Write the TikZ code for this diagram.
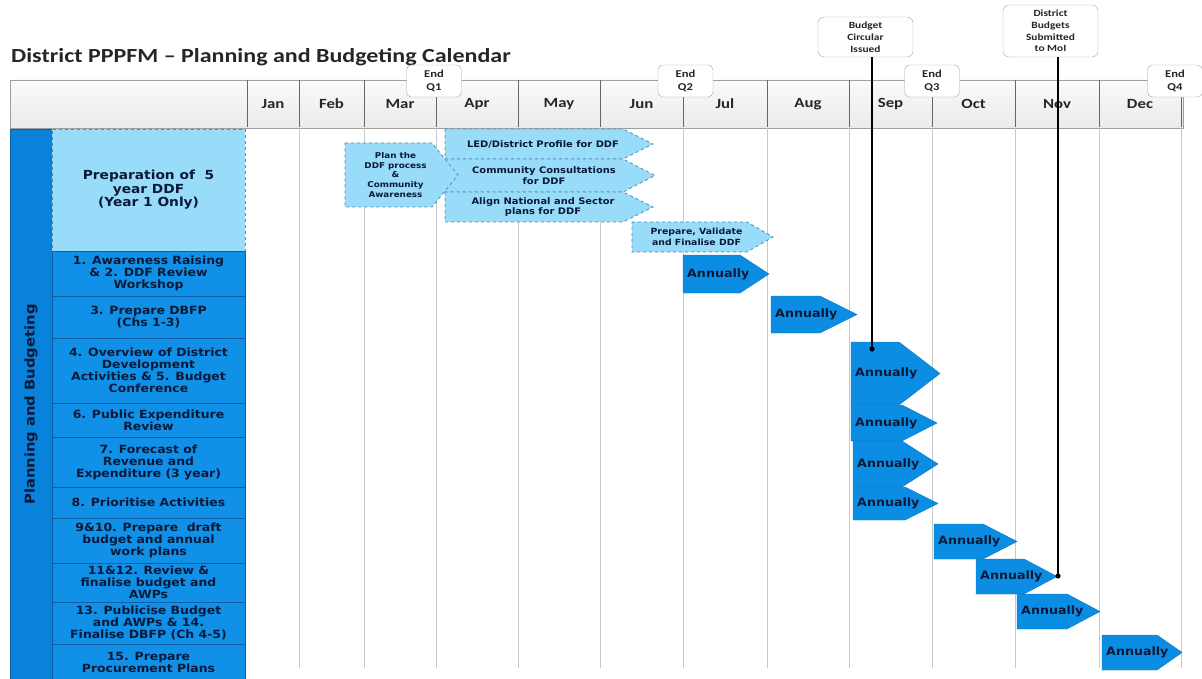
\documentclass[tikz,border=0pt]{standalone}
\usepackage{fontspec}
\setmainfont{DejaVu Sans}
\newfontfamily\lblfont[FakeStretch=1.1]{DejaVu Sans}
\newfontfamily\calfont[FakeStretch=1.2]{Carlito}
\usetikzlibrary{positioning}

\definecolor{rowblue}{RGB}{16,144,230}
\definecolor{sideblue}{RGB}{8,130,218}
\definecolor{rowedge}{RGB}{12,95,165}
\definecolor{ddfblue}{RGB}{152,220,249}
\definecolor{ddfedge}{RGB}{75,140,185}
\definecolor{annualblue}{RGB}{12,141,228}
\definecolor{navytext}{RGB}{10,25,55}
\definecolor{gridgrey}{RGB}{200,200,200}

% light blue DDF arrow: name, left x, body end x, tip x, top y, bottom y, text style, text
\newcommand{\ddfbar}[8]{%
  \draw[ddfbar] (#2,#5) -- (#3,#5) -- (#4,{(#5+#6)/2}) -- (#3,#6) -- (#2,#6) -- cycle;
  \node[ddftext, #7] (#1) at ({(#2+#4)/2-6},{(#5+#6)/2}) {#8};}

% dark blue annual arrow: name, left x, body end x, tip x, top y, bottom y
\newcommand{\annualbar}[6]{%
  \draw[annual] (#2,#5) -- (#3,#5) -- (#4,{(#5+#6)/2}) -- (#3,#6) -- (#2,#6) -- cycle;
  \node[annualtext] (#1) at ({#2+3},{(#5+#6)/2}) {Annually};}

\begin{document}
\begin{tikzpicture}[x=1pt, y=-1pt,
    title/.style={anchor=west, inner sep=0pt, text=black!85, font=\calfont\bfseries\fontsize{20}{22}\selectfont},
    header/.style={rectangle, draw=gray!75, line width=0.9pt, top color=gray!4, bottom color=gray!16, inner sep=0pt},
    headline/.style={draw=gray!80!black, line width=0.6pt},
    month/.style={inner sep=0pt, text=black!85, font=\calfont\bfseries\fontsize{14}{16}\selectfont},
    endq/.style={rectangle, rounded corners=5pt, draw=gray!70, fill=white, minimum width=55pt, minimum height=32pt, inner sep=0pt, align=center, text=black!85, font=\calfont\bfseries\fontsize{10.5}{13}\selectfont},
    callout/.style={rectangle, rounded corners=6pt, draw=gray!70, fill=white, minimum width=95pt, inner sep=0pt, align=center, text=black!85, font=\calfont\bfseries\fontsize{9.5}{11.8}\selectfont},
    gridline/.style={draw=gridgrey, line width=0.8pt},
    sidebar/.style={rectangle, fill=sideblue, draw=rowedge, line width=0.5pt, inner sep=0pt, text=navytext, font=\lblfont\bfseries\fontsize{13.4}{15}\selectfont},
    rowlbl/.style={rectangle, fill=rowblue, draw=rowedge, line width=0.5pt, inner sep=0pt, minimum width=193pt, align=center, text=navytext, font=\lblfont\bfseries\fontsize{11.3}{12}\selectfont},
    prepbox/.style={rowlbl, fill=ddfblue, draw=ddfedge, dashed, font=\lblfont\bfseries\fontsize{12.5}{13.5}\selectfont},
    ddfbar/.style={fill=ddfblue, draw=ddfedge, dashed, line width=0.8pt},
    ddftext/.style={inner sep=0pt, align=center, text=navytext, font=\lblfont\bfseries\fontsize{9}{10.5}\selectfont},
    ddfsmall/.style={font=\lblfont\bfseries\fontsize{8}{9.8}\selectfont},
    ddfmid/.style={font=\lblfont\bfseries\fontsize{8.5}{10.5}\selectfont},
    annual/.style={fill=annualblue, draw=annualblue!85!black, line width=0.4pt},
    annualtext/.style={anchor=west, inner sep=1pt, text=navytext, font=\lblfont\bfseries\fontsize{11.5}{12}\selectfont},
    pin/.style={draw=black, line width=1.1pt},
  ]
    \useasboundingbox (0,0) rectangle (1202,679);

    % Title
    \node[title] (title) at (11,57) {District PPPFM – Planning and Budgeting Calendar};

    % Header with months
    \node[header, minimum width=1173pt, minimum height=48pt] (head) at (596.5,104) {};
    \foreach \x in {247,299,364,436,518,600,683,767,849,932,1015,1099,1181}
        \draw[headline] (\x,80.5) -- (\x,127.5);
    \foreach \m/\x in {Jan/273,Feb/331.5,Mar/400,Apr/477,May/559,Jun/641.5,Jul/725,Aug/808,Sep/890.5,Oct/973.5,Nov/1057,Dec/1140}
        \node[month] (m\m) at (\x,104) {\m};

    % Grid lines
    \foreach \x in {299,364,436,518,600,683,767,849,932,1015,1099,1181}
        \draw[gridline] (\x,128) -- (\x,668);

    % Side bar and row labels
    \node[sidebar, rotate=90, minimum width=551pt, minimum height=42pt] (side) at (31,404.5) {Planning and Budgeting};
    \node[prepbox, minimum height=122pt] (prep)  at (148.5,190)   {Preparation of \ 5\\year DDF\\(Year 1 Only)};
    \node[rowlbl, minimum height=45pt]  (row1)  at (148.5,273.5) {1. Awareness Raising\\\& 2. DDF Review\\Workshop};
    \node[rowlbl, minimum height=42pt]  (row3)  at (148.5,317)   {3. Prepare DBFP\\(Chs 1-3)};
    \node[rowlbl, minimum height=65pt]  (row4)  at (148.5,370.5) {4. Overview of District\\Development\\Activities \& 5. Budget\\Conference};
    \node[rowlbl, minimum height=34pt]  (row6)  at (148.5,420)   {6. Public Expenditure\\Review};
    \node[rowlbl, minimum height=50pt]  (row7)  at (148.5,462)   {7. Forecast of\\Revenue and\\Expenditure (3 year)};
    \node[rowlbl, minimum height=31pt]  (row8)  at (148.5,502.5) {8. Prioritise Activities};
    \node[rowlbl, minimum height=45pt]  (row9)  at (148.5,540.5) {9\&10. Prepare \ draft\\budget and annual\\work plans};
    \node[rowlbl, minimum height=39pt]  (row11) at (148.5,582.5) {11\&12. Review \&\\finalise budget and\\AWPs};
    \node[rowlbl, minimum height=42pt]  (row13) at (148.5,623)   {13. Publicise Budget\\and AWPs \& 14.\\Finalise DBFP (Ch 4-5)};
    \node[rowlbl, minimum height=36pt]  (row15) at (148.5,662)   {15. Prepare\\Procurement Plans};

    % DDF activities (year 1 only)
    \ddfbar{led}{445}{623}{653}{129}{159}{}{LED/District Profile for DDF}
    \ddfbar{consult}{445}{623}{655}{159}{192}{}{Community Consultations\\for DDF}
    \ddfbar{align}{445}{623}{653}{192}{222}{}{Align National and Sector\\plans for DDF}
    \ddfbar{plan}{345}{432}{458}{143}{207}{ddfsmall}{Plan the\\DDF process\\\&\\Community\\Awareness}
    \ddfbar{validate}{632}{747}{773}{222}{252}{ddfmid}{Prepare, Validate\\and Finalise DDF}

    % Annual activities
    \annualbar{ann1}{683}{740}{769}{255}{293}
    \annualbar{ann3}{771}{820}{857}{296}{333}
    \annualbar{ann4}{851}{899}{940}{342}{405}
    \annualbar{ann6}{851}{902}{937}{405}{441}
    \annualbar{ann7}{853}{902}{938}{441}{487}
    \annualbar{ann8}{853}{905}{938}{487}{520}
    \annualbar{ann9}{934}{983}{1017}{524}{559}
    \annualbar{ann11}{976}{1024}{1057}{559}{594}
    \annualbar{ann13}{1017}{1067}{1100}{594}{629}
    \annualbar{ann15}{1102}{1157}{1182}{635}{670}

    % Quarter ends
    \foreach \q/\x in {1/434,2/685.5,3/932,4/1175}
        \node[endq] (endq\q) at (\x,81) {End\\Q\q};

    % Milestones
    \node[callout, minimum height=40pt] (circular)  at (865.5,37)  {Budget\\Circular\\Issued};
    \node[callout, minimum height=52pt] (submitted) at (1050.5,31) {District\\Budgets\\Submitted\\to MoI};
    \coordinate (circdot) at (872,349);
    \coordinate (subdot)  at (1058,576);
    \draw[pin] (circular.south -| circdot) -- (circdot);
    \draw[pin] (submitted.south -| subdot) -- (subdot);
    \fill (circdot) circle (2.6);
    \fill (subdot) circle (2.6);
\end{tikzpicture}
\end{document}
